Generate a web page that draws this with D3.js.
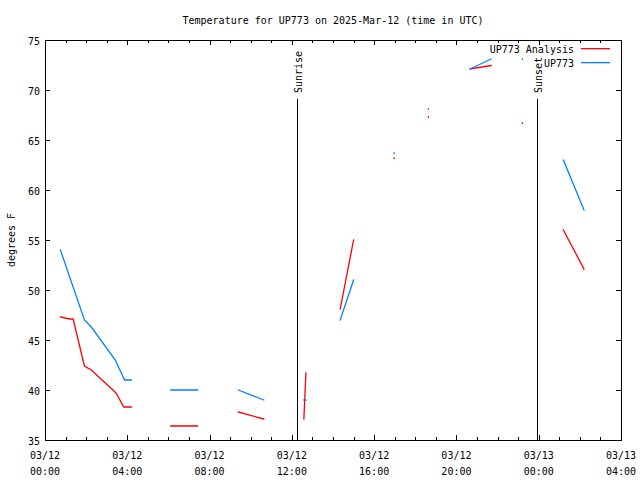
<!DOCTYPE html>
<html><head><meta charset="utf-8">
<script src="https://cdn.jsdelivr.net/npm/d3@7"></script>
<style>body{margin:0;background:#fff}svg{display:block}text{font-family:"DejaVu Sans Mono",monospace;font-size:10px;fill:#000}</style>
</head><body><svg id="c" width="640" height="480"></svg>
<script>
// Data (times in UTC, null = gap)
const obsTimes = ["2025-03-12T00:45","2025-03-12T01:55","2025-03-12T02:15","2025-03-12T03:25","2025-03-12T03:52","2025-03-12T04:12",null,
  "2025-03-12T06:07","2025-03-12T07:25",null,
  "2025-03-12T09:24","2025-03-12T10:38",null,
  "2025-03-12T12:35","2025-03-12T12:41",null,
  "2025-03-12T14:21","2025-03-12T15:00",null,
  "2025-03-12T16:58",null,
  "2025-03-12T18:38",null,
  "2025-03-12T20:40","2025-03-12T21:41",null,
  "2025-03-12T23:12",null,
  "2025-03-13T01:12","2025-03-13T02:12"];
const obsValues = [54.0,47.0,46.3,43.0,41.0,41.0,null,
  40.0,40.0,null,
  40.0,39.0,null,
  39.0,39.0,null,
  47.0,51.0,null,
  63.7,null,
  68.1,null,
  72.1,73.1,null,
  73.1,null,
  63.0,58.0];
const anaTimes = ["2025-03-12T00:45","2025-03-12T01:12","2025-03-12T01:22","2025-03-12T01:55","2025-03-12T02:15","2025-03-12T03:15","2025-03-12T03:27","2025-03-12T03:50","2025-03-12T04:12",null,
  "2025-03-12T06:07","2025-03-12T07:25",null,
  "2025-03-12T09:24","2025-03-12T10:38",null,
  "2025-03-12T12:35","2025-03-12T12:41",null,
  "2025-03-12T14:21","2025-03-12T15:00",null,
  "2025-03-12T16:58",null,
  "2025-03-12T18:38",null,
  "2025-03-12T20:40","2025-03-12T21:41",null,
  "2025-03-12T23:12",null,
  "2025-03-13T01:12","2025-03-13T02:12"];
const anaValues = [47.3,47.1,47.1,42.4,42.0,40.1,39.7,38.3,38.3,null,
  36.4,36.4,null,
  37.8,37.1,null,
  37.1,41.7,null,
  48.1,55.0,null,
  63.2,null,
  67.3,null,
  72.1,72.45,null,
  66.7,null,
  56.0,52.1];
const sunEvents = [{name:"Sunrise", time:"2025-03-12T12:15"},{name:"Sunset", time:"2025-03-12T23:55"}];
const yTicks = [35,40,45,50,55,60,65,70,75];
const title = "Temperature for UP773 on 2025-Mar-12 (time in UTC)";

const parse = s => s ? new Date(s + ":00Z") : null;
const svg = d3.select("#c");
const L=45, R=621, T=40, B=440;
const x = d3.scaleUtc().domain([parse("2025-03-12T00:00"), parse("2025-03-13T04:00")]).range([L,R]);
const y = d3.scaleLinear().domain([35,75]).range([B,T]);
const fmtD = d3.utcFormat("%m/%d"), fmtH = d3.utcFormat("%H:%M");

// frame
svg.append("rect").attr("x",L+0.5).attr("y",T+0.5).attr("width",R-L).attr("height",B-T)
  .attr("fill","none").attr("stroke","#000").attr("shape-rendering","crispEdges");

const majors = d3.utcHour.every(4).range(x.domain()[0], new Date(+x.domain()[1]+1));
const minors = d3.utcHour.every(1).range(x.domain()[0], new Date(+x.domain()[1]+1));
const g = svg.append("g").attr("stroke","#000").attr("shape-rendering","crispEdges");
minors.forEach(d=>{
  const len = majors.some(m=>+m===+d) ? 5 : 3;
  const px = Math.round(x(d))+0.5;
  g.append("line").attr("x1",px).attr("x2",px).attr("y1",B).attr("y2",B-len);
  g.append("line").attr("x1",px).attr("x2",px).attr("y1",T).attr("y2",T+len);
});
yTicks.forEach(v=>{
  const py = Math.round(y(v))+0.5;
  g.append("line").attr("x1",L).attr("x2",L+5).attr("y1",py).attr("y2",py);
  g.append("line").attr("x1",R-5).attr("x2",R).attr("y1",py).attr("y2",py);
  svg.append("text").attr("x",40).attr("y",py+4).attr("text-anchor","end").text(v);
});
majors.forEach(d=>{
  svg.append("text").attr("x",x(d)).attr("y",459).attr("text-anchor","middle").text(fmtD(d));
  svg.append("text").attr("x",x(d)).attr("y",475).attr("text-anchor","middle").text(fmtH(d));
});

svg.append("text").attr("x",333).attr("y",24).attr("text-anchor","middle").text(title);
svg.append("text").attr("transform","translate(15,240) rotate(-90)").attr("text-anchor","middle").text("degrees F");

// sun lines
sunEvents.forEach(e=>{
  const px = Math.round(x(parse(e.time)))+0.5;
  svg.append("line").attr("x1",px).attr("x2",px).attr("y1",y(69.1)).attr("y2",B)
    .attr("stroke","#000").attr("stroke-width",1.2).attr("shape-rendering","crispEdges");
  svg.append("text").attr("transform",`translate(${px+4},${y(69.1)-6}) rotate(-90)`).text(e.name);
});

function drawSeries(times, values, color){
  const pts = times.map((t,i)=> t ? {t:parse(t), v:values[i]} : null);
  const line = d3.line().defined(d=>d).x(d=>x(d.t)).y(d=>y(d.v));
  svg.append("path").attr("d", line(pts)).attr("fill","none").attr("stroke",color)
    .attr("stroke-width",1.3).attr("stroke-linecap","square");
  pts.forEach((p,i)=>{
    if(p && !pts[i-1] && !pts[i+1]){
      svg.append("rect").attr("x",Math.round(x(p.t))).attr("y",Math.round(y(p.v))).attr("width",1).attr("height",1).attr("fill",color);
    }
  });
}
drawSeries(anaTimes, anaValues, "#ff0000");
drawSeries(obsTimes, obsValues, "#0080ff");

// legend
const legend = [{label:"UP773 Analysis", color:"#ff0000"},{label:"UP773", color:"#0080ff"}];
legend.forEach((d,i)=>{
  const yy = 48 + i*14;
  svg.append("text").attr("x",574).attr("y",yy+5).attr("text-anchor","end").text(d.label);
  svg.append("rect").attr("x",581).attr("y",yy).attr("width",29).attr("height",1.3).attr("fill",d.color);
});
</script></body></html>
